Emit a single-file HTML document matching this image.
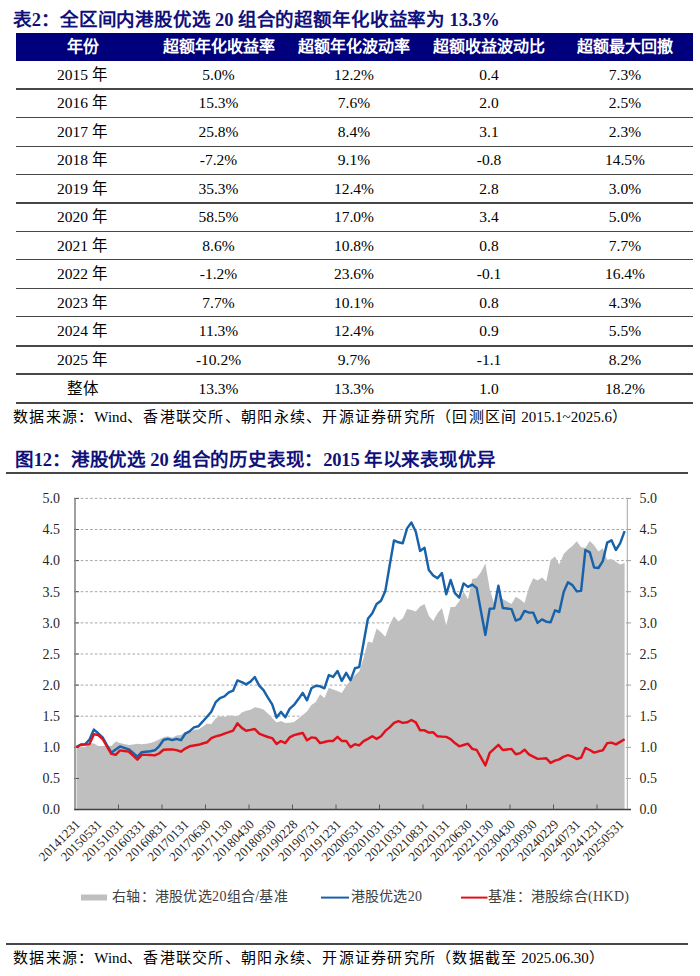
<!DOCTYPE html>
<html lang="zh-CN"><head><meta charset="utf-8"><style>
html,body{margin:0;padding:0;background:#fff;}
body{width:700px;height:976px;position:relative;overflow:hidden;font-family:"Liberation Serif",serif;color:#000;}
.t{position:absolute;white-space:nowrap;}
.ttl{font-weight:bold;color:#10107a;font-size:18.5px;line-height:20px;}
.hdr{position:absolute;left:16px;width:677px;top:32.5px;height:28px;background:#00007d;}
.h{position:absolute;width:200px;margin-left:-100px;text-align:center;color:#fff;font-weight:bold;font-size:16px;line-height:28px;top:32.5px;}
.c{position:absolute;width:200px;margin-left:-100px;text-align:center;font-size:15.5px;line-height:28px;}
.rl{position:absolute;left:16px;width:677px;height:1.5px;background:#474747;}
.src{font-size:15px;line-height:16px;letter-spacing:1.27px;}
</style></head><body>

<div class="t ttl" style="left:13px;top:10px;font-size:18.5px;letter-spacing:-0.15px;">表2：全区间内港股优选 20 组合的超额年化收益率为 13.3%</div>
<div class="hdr"></div>
<div class="h" style="left:82.5px;">年份</div>
<div class="h" style="left:218.5px;">超额年化收益率</div>
<div class="h" style="left:354px;">超额年化波动率</div>
<div class="h" style="left:489px;">超额收益波动比</div>
<div class="h" style="left:625px;">超额最大回撤</div>
<div class="c" style="left:82.5px;top:60.8px;">2015 年</div>
<div class="c" style="left:218.5px;top:60.8px;">5.0%</div>
<div class="c" style="left:354px;top:60.8px;">12.2%</div>
<div class="c" style="left:489px;top:60.8px;">0.4</div>
<div class="c" style="left:625px;top:60.8px;">7.3%</div>
<div class="rl" style="top:88.25px;"></div>
<div class="c" style="left:82.5px;top:89.2px;">2016 年</div>
<div class="c" style="left:218.5px;top:89.2px;">15.3%</div>
<div class="c" style="left:354px;top:89.2px;">7.6%</div>
<div class="c" style="left:489px;top:89.2px;">2.0</div>
<div class="c" style="left:625px;top:89.2px;">2.5%</div>
<div class="rl" style="top:116.75px;"></div>
<div class="c" style="left:82.5px;top:117.9px;">2017 年</div>
<div class="c" style="left:218.5px;top:117.9px;">25.8%</div>
<div class="c" style="left:354px;top:117.9px;">8.4%</div>
<div class="c" style="left:489px;top:117.9px;">3.1</div>
<div class="c" style="left:625px;top:117.9px;">2.3%</div>
<div class="rl" style="top:145.55px;"></div>
<div class="c" style="left:82.5px;top:146.4px;">2018 年</div>
<div class="c" style="left:218.5px;top:146.4px;">-7.2%</div>
<div class="c" style="left:354px;top:146.4px;">9.1%</div>
<div class="c" style="left:489px;top:146.4px;">-0.8</div>
<div class="c" style="left:625px;top:146.4px;">14.5%</div>
<div class="rl" style="top:173.85px;"></div>
<div class="c" style="left:82.5px;top:174.9px;">2019 年</div>
<div class="c" style="left:218.5px;top:174.9px;">35.3%</div>
<div class="c" style="left:354px;top:174.9px;">12.4%</div>
<div class="c" style="left:489px;top:174.9px;">2.8</div>
<div class="c" style="left:625px;top:174.9px;">3.0%</div>
<div class="rl" style="top:202.45px;"></div>
<div class="c" style="left:82.5px;top:203.4px;">2020 年</div>
<div class="c" style="left:218.5px;top:203.4px;">58.5%</div>
<div class="c" style="left:354px;top:203.4px;">17.0%</div>
<div class="c" style="left:489px;top:203.4px;">3.4</div>
<div class="c" style="left:625px;top:203.4px;">5.0%</div>
<div class="rl" style="top:230.85px;"></div>
<div class="c" style="left:82.5px;top:231.6px;">2021 年</div>
<div class="c" style="left:218.5px;top:231.6px;">8.6%</div>
<div class="c" style="left:354px;top:231.6px;">10.8%</div>
<div class="c" style="left:489px;top:231.6px;">0.8</div>
<div class="c" style="left:625px;top:231.6px;">7.7%</div>
<div class="rl" style="top:258.75px;"></div>
<div class="c" style="left:82.5px;top:260.1px;">2022 年</div>
<div class="c" style="left:218.5px;top:260.1px;">-1.2%</div>
<div class="c" style="left:354px;top:260.1px;">23.6%</div>
<div class="c" style="left:489px;top:260.1px;">-0.1</div>
<div class="c" style="left:625px;top:260.1px;">16.4%</div>
<div class="rl" style="top:287.95px;"></div>
<div class="c" style="left:82.5px;top:288.7px;">2023 年</div>
<div class="c" style="left:218.5px;top:288.7px;">7.7%</div>
<div class="c" style="left:354px;top:288.7px;">10.1%</div>
<div class="c" style="left:489px;top:288.7px;">0.8</div>
<div class="c" style="left:625px;top:288.7px;">4.3%</div>
<div class="rl" style="top:315.95px;"></div>
<div class="c" style="left:82.5px;top:317.3px;">2024 年</div>
<div class="c" style="left:218.5px;top:317.3px;">11.3%</div>
<div class="c" style="left:354px;top:317.3px;">12.4%</div>
<div class="c" style="left:489px;top:317.3px;">0.9</div>
<div class="c" style="left:625px;top:317.3px;">5.5%</div>
<div class="rl" style="top:345.15px;"></div>
<div class="c" style="left:82.5px;top:345.9px;">2025 年</div>
<div class="c" style="left:218.5px;top:345.9px;">-10.2%</div>
<div class="c" style="left:354px;top:345.9px;">9.7%</div>
<div class="c" style="left:489px;top:345.9px;">-1.1</div>
<div class="c" style="left:625px;top:345.9px;">8.2%</div>
<div class="rl" style="top:373.15px;"></div>
<div class="c" style="left:82.5px;top:374.5px;">整体</div>
<div class="c" style="left:218.5px;top:374.5px;">13.3%</div>
<div class="c" style="left:354px;top:374.5px;">13.3%</div>
<div class="c" style="left:489px;top:374.5px;">1.0</div>
<div class="c" style="left:625px;top:374.5px;">18.2%</div>
<div class="rl" style="top:402.35px;"></div>
<div class="t src" style="left:13px;top:409px;">数据来源：<span style="letter-spacing:0px">Wind</span>、香港联交所、朝阳永续、开源证券研究所（回测区间<span style="letter-spacing:0px"> 2015.1~2025.6</span>）</div>
<div class="t ttl" style="left:15px;top:450px;font-size:18.5px;letter-spacing:-0.2px;">图12：港股优选 20 组合的历史表现：2015 年以来表现优异</div>
<div class="rl" style="left:6px;width:682px;top:472px;"></div>
<svg style="position:absolute;left:0;top:0" width="700" height="976" viewBox="0 0 700 976">
<line x1="76" y1="778.5" x2="631" y2="778.5" stroke="#a6a6a6" stroke-width="1" stroke-dasharray="2.6 2.1"/>
<line x1="76" y1="747.4" x2="631" y2="747.4" stroke="#a6a6a6" stroke-width="1" stroke-dasharray="2.6 2.1"/>
<line x1="76" y1="716.2" x2="631" y2="716.2" stroke="#a6a6a6" stroke-width="1" stroke-dasharray="2.6 2.1"/>
<line x1="76" y1="685.1" x2="631" y2="685.1" stroke="#a6a6a6" stroke-width="1" stroke-dasharray="2.6 2.1"/>
<line x1="76" y1="654.0" x2="631" y2="654.0" stroke="#a6a6a6" stroke-width="1" stroke-dasharray="2.6 2.1"/>
<line x1="76" y1="622.9" x2="631" y2="622.9" stroke="#a6a6a6" stroke-width="1" stroke-dasharray="2.6 2.1"/>
<line x1="76" y1="591.7" x2="631" y2="591.7" stroke="#a6a6a6" stroke-width="1" stroke-dasharray="2.6 2.1"/>
<line x1="76" y1="560.6" x2="631" y2="560.6" stroke="#a6a6a6" stroke-width="1" stroke-dasharray="2.6 2.1"/>
<line x1="76" y1="529.5" x2="631" y2="529.5" stroke="#a6a6a6" stroke-width="1" stroke-dasharray="2.6 2.1"/>
<line x1="76" y1="498.4" x2="631" y2="498.4" stroke="#a6a6a6" stroke-width="1" stroke-dasharray="2.6 2.1"/>
<path d="M76.5,747.4 L80.8,746.9 L85.2,746.9 L89.5,743.1 L93.9,743.6 L98.2,745.9 L102.6,745.9 L106.9,745.9 L111.3,746.0 L115.7,741.4 L120.0,743.1 L124.3,744.0 L128.7,744.9 L133.1,744.4 L137.4,743.7 L141.8,744.3 L146.1,743.7 L150.4,743.1 L154.8,741.5 L159.1,739.4 L163.5,737.3 L167.8,736.3 L172.2,737.8 L176.6,735.6 L180.9,735.0 L185.2,732.1 L189.6,732.7 L193.9,729.7 L198.3,729.6 L202.6,726.8 L207.0,723.6 L211.3,724.3 L215.7,718.3 L220.0,716.2 L224.4,716.9 L228.8,715.4 L233.1,715.8 L237.4,716.4 L241.8,712.5 L246.1,710.8 L250.5,709.7 L254.8,707.2 L259.2,708.0 L263.5,709.5 L267.9,713.6 L272.2,718.0 L276.6,722.4 L280.9,720.9 L285.3,723.1 L289.6,722.8 L294.0,722.1 L298.4,718.6 L302.7,714.9 L307.0,711.4 L311.4,705.0 L315.8,701.9 L320.1,694.2 L324.4,697.9 L328.8,687.7 L333.1,689.4 L337.5,691.0 L341.8,693.0 L346.2,685.7 L350.5,680.8 L354.9,674.9 L359.2,671.4 L363.6,657.9 L367.9,641.6 L372.3,642.8 L376.6,628.6 L381.0,632.2 L385.3,636.8 L389.7,624.6 L394.0,616.3 L398.4,621.6 L402.8,618.3 L407.1,609.1 L411.4,610.1 L415.8,611.5 L420.1,606.5 L424.5,604.1 L428.8,615.8 L433.2,621.0 L437.5,613.2 L441.9,607.9 L446.2,625.2 L450.6,606.9 L454.9,606.9 L459.3,601.2 L463.6,591.6 L468.0,599.2 L472.3,578.9 L476.7,578.1 L481.0,571.9 L485.4,563.6 L489.7,588.9 L494.1,603.5 L498.4,594.2 L502.8,599.0 L507.1,601.5 L511.5,604.0 L515.8,596.8 L520.2,599.5 L524.5,603.1 L528.9,587.8 L533.2,578.2 L537.6,580.4 L542.0,577.4 L546.3,581.6 L550.6,559.9 L555.0,556.4 L559.3,564.6 L563.7,554.0 L568.0,549.5 L572.4,545.9 L576.8,541.2 L581.1,547.3 L585.4,547.7 L589.8,540.9 L594.1,545.2 L598.5,551.6 L602.8,548.3 L607.2,559.7 L611.5,559.0 L615.9,561.7 L620.2,564.6 L624.6,563.0 L624.6,809.6 L76.5,809.6 Z" fill="#bfbfbf"/>
<line x1="74" y1="809.6" x2="79" y2="809.6" stroke="#595959" stroke-width="1"/>
<line x1="627" y1="809.6" x2="631" y2="809.6" stroke="#a6a6a6" stroke-width="1"/>
<text x="60" y="814.4" text-anchor="end" font-size="14" font-family="Liberation Serif" fill="#262626">0.0</text>
<text x="639.5" y="814.4" font-size="14" font-family="Liberation Serif" fill="#262626">0.0</text>
<line x1="74" y1="778.5" x2="79" y2="778.5" stroke="#595959" stroke-width="1"/>
<line x1="627" y1="778.5" x2="631" y2="778.5" stroke="#a6a6a6" stroke-width="1"/>
<text x="60" y="783.3" text-anchor="end" font-size="14" font-family="Liberation Serif" fill="#262626">0.5</text>
<text x="639.5" y="783.3" font-size="14" font-family="Liberation Serif" fill="#262626">0.5</text>
<line x1="74" y1="747.4" x2="79" y2="747.4" stroke="#595959" stroke-width="1"/>
<line x1="627" y1="747.4" x2="631" y2="747.4" stroke="#a6a6a6" stroke-width="1"/>
<text x="60" y="752.1" text-anchor="end" font-size="14" font-family="Liberation Serif" fill="#262626">1.0</text>
<text x="639.5" y="752.1" font-size="14" font-family="Liberation Serif" fill="#262626">1.0</text>
<line x1="74" y1="716.2" x2="79" y2="716.2" stroke="#595959" stroke-width="1"/>
<line x1="627" y1="716.2" x2="631" y2="716.2" stroke="#a6a6a6" stroke-width="1"/>
<text x="60" y="721.0" text-anchor="end" font-size="14" font-family="Liberation Serif" fill="#262626">1.5</text>
<text x="639.5" y="721.0" font-size="14" font-family="Liberation Serif" fill="#262626">1.5</text>
<line x1="74" y1="685.1" x2="79" y2="685.1" stroke="#595959" stroke-width="1"/>
<line x1="627" y1="685.1" x2="631" y2="685.1" stroke="#a6a6a6" stroke-width="1"/>
<text x="60" y="689.9" text-anchor="end" font-size="14" font-family="Liberation Serif" fill="#262626">2.0</text>
<text x="639.5" y="689.9" font-size="14" font-family="Liberation Serif" fill="#262626">2.0</text>
<line x1="74" y1="654.0" x2="79" y2="654.0" stroke="#595959" stroke-width="1"/>
<line x1="627" y1="654.0" x2="631" y2="654.0" stroke="#a6a6a6" stroke-width="1"/>
<text x="60" y="658.8" text-anchor="end" font-size="14" font-family="Liberation Serif" fill="#262626">2.5</text>
<text x="639.5" y="658.8" font-size="14" font-family="Liberation Serif" fill="#262626">2.5</text>
<line x1="74" y1="622.9" x2="79" y2="622.9" stroke="#595959" stroke-width="1"/>
<line x1="627" y1="622.9" x2="631" y2="622.9" stroke="#a6a6a6" stroke-width="1"/>
<text x="60" y="627.6" text-anchor="end" font-size="14" font-family="Liberation Serif" fill="#262626">3.0</text>
<text x="639.5" y="627.6" font-size="14" font-family="Liberation Serif" fill="#262626">3.0</text>
<line x1="74" y1="591.7" x2="79" y2="591.7" stroke="#595959" stroke-width="1"/>
<line x1="627" y1="591.7" x2="631" y2="591.7" stroke="#a6a6a6" stroke-width="1"/>
<text x="60" y="596.5" text-anchor="end" font-size="14" font-family="Liberation Serif" fill="#262626">3.5</text>
<text x="639.5" y="596.5" font-size="14" font-family="Liberation Serif" fill="#262626">3.5</text>
<line x1="74" y1="560.6" x2="79" y2="560.6" stroke="#595959" stroke-width="1"/>
<line x1="627" y1="560.6" x2="631" y2="560.6" stroke="#a6a6a6" stroke-width="1"/>
<text x="60" y="565.4" text-anchor="end" font-size="14" font-family="Liberation Serif" fill="#262626">4.0</text>
<text x="639.5" y="565.4" font-size="14" font-family="Liberation Serif" fill="#262626">4.0</text>
<line x1="74" y1="529.5" x2="79" y2="529.5" stroke="#595959" stroke-width="1"/>
<line x1="627" y1="529.5" x2="631" y2="529.5" stroke="#a6a6a6" stroke-width="1"/>
<text x="60" y="534.3" text-anchor="end" font-size="14" font-family="Liberation Serif" fill="#262626">4.5</text>
<text x="639.5" y="534.3" font-size="14" font-family="Liberation Serif" fill="#262626">4.5</text>
<line x1="74" y1="498.4" x2="79" y2="498.4" stroke="#595959" stroke-width="1"/>
<line x1="627" y1="498.4" x2="631" y2="498.4" stroke="#a6a6a6" stroke-width="1"/>
<text x="60" y="503.2" text-anchor="end" font-size="14" font-family="Liberation Serif" fill="#262626">5.0</text>
<text x="639.5" y="503.2" font-size="14" font-family="Liberation Serif" fill="#262626">5.0</text>
<line x1="75" y1="498" x2="75" y2="809.5" stroke="#7f7f7f" stroke-width="1.5"/>
<line x1="627.3" y1="498" x2="627.3" y2="809.5" stroke="#a6a6a6" stroke-width="1"/>
<line x1="74.3" y1="809.5" x2="631" y2="809.5" stroke="#404040" stroke-width="1.3"/>
<line x1="118.5" y1="804.5" x2="118.5" y2="809.5" stroke="#595959" stroke-width="1"/>
<line x1="162.0" y1="804.5" x2="162.0" y2="809.5" stroke="#595959" stroke-width="1"/>
<line x1="205.5" y1="804.5" x2="205.5" y2="809.5" stroke="#595959" stroke-width="1"/>
<line x1="249.0" y1="804.5" x2="249.0" y2="809.5" stroke="#595959" stroke-width="1"/>
<line x1="292.5" y1="804.5" x2="292.5" y2="809.5" stroke="#595959" stroke-width="1"/>
<line x1="336.0" y1="804.5" x2="336.0" y2="809.5" stroke="#595959" stroke-width="1"/>
<line x1="379.5" y1="804.5" x2="379.5" y2="809.5" stroke="#595959" stroke-width="1"/>
<line x1="423.0" y1="804.5" x2="423.0" y2="809.5" stroke="#595959" stroke-width="1"/>
<line x1="466.5" y1="804.5" x2="466.5" y2="809.5" stroke="#595959" stroke-width="1"/>
<line x1="510.0" y1="804.5" x2="510.0" y2="809.5" stroke="#595959" stroke-width="1"/>
<line x1="553.5" y1="804.5" x2="553.5" y2="809.5" stroke="#595959" stroke-width="1"/>
<line x1="597.0" y1="804.5" x2="597.0" y2="809.5" stroke="#595959" stroke-width="1"/>
<path d="M76.5,747.0 L80.8,744.5 L85.2,744.1 L89.5,739.6 L93.9,729.6 L98.2,733.3 L102.6,737.3 L106.9,745.0 L111.3,752.7 L115.7,749.5 L120.0,746.4 L124.3,747.8 L128.7,749.3 L133.1,753.0 L137.4,756.7 L141.8,752.1 L146.1,751.7 L150.4,751.3 L154.8,750.3 L159.1,746.3 L163.5,740.0 L167.8,738.9 L172.2,740.2 L176.6,738.9 L180.9,740.2 L185.2,733.7 L189.6,731.4 L193.9,727.4 L198.3,726.3 L202.6,721.7 L207.0,716.7 L211.3,711.7 L215.7,702.2 L220.0,698.1 L224.4,696.4 L228.8,692.4 L233.1,690.7 L237.4,680.4 L241.8,682.1 L246.1,684.4 L250.5,681.6 L254.8,677.0 L259.2,685.6 L263.5,690.1 L267.9,697.6 L272.2,704.4 L276.6,717.6 L280.9,711.9 L285.3,717.2 L289.6,708.9 L294.0,704.9 L298.4,699.1 L302.7,692.9 L307.0,700.3 L311.4,688.3 L315.8,685.7 L320.1,686.3 L324.4,688.3 L328.8,675.1 L333.1,676.9 L337.5,671.1 L341.8,680.9 L346.2,672.9 L350.5,680.3 L354.9,668.3 L359.2,667.1 L363.6,642.7 L367.9,618.8 L372.3,613.2 L376.6,604.0 L381.0,600.7 L385.3,591.1 L389.7,565.3 L394.0,540.4 L398.4,542.3 L402.8,543.2 L407.1,528.4 L411.4,522.5 L415.8,531.8 L420.1,550.9 L424.5,547.8 L428.8,569.9 L433.2,575.4 L437.5,578.3 L441.9,573.1 L446.2,594.3 L450.6,580.0 L454.9,593.1 L459.3,597.7 L463.6,583.4 L468.0,586.9 L472.3,584.6 L476.7,588.0 L481.0,611.5 L485.4,634.9 L489.7,608.6 L494.1,608.6 L498.4,585.7 L502.8,608.0 L507.1,608.5 L511.5,609.1 L515.8,620.6 L520.2,618.9 L524.5,610.9 L528.9,612.6 L533.2,612.6 L537.6,622.9 L542.0,619.4 L546.3,621.7 L550.6,622.3 L555.0,610.3 L559.3,612.0 L563.7,592.0 L568.0,582.3 L572.4,585.1 L576.8,591.4 L581.1,590.9 L585.4,550.0 L589.8,552.3 L594.1,567.5 L598.5,568.0 L602.8,561.1 L607.2,542.6 L611.5,540.3 L615.9,550.0 L620.2,543.1 L624.6,531.1" fill="none" stroke="#1862aa" stroke-width="2.45" stroke-linejoin="round"/>
<path d="M76.5,747.0 L80.8,745.0 L85.2,744.5 L89.5,744.1 L93.9,734.2 L98.2,735.0 L102.6,739.0 L106.9,746.5 L111.3,753.9 L115.7,754.8 L120.0,750.4 L124.3,751.0 L128.7,751.6 L133.1,755.6 L137.4,759.6 L141.8,754.8 L146.1,754.9 L150.4,755.0 L154.8,755.4 L159.1,753.5 L163.5,749.7 L167.8,749.5 L172.2,749.4 L176.6,750.1 L180.9,751.7 L185.2,748.6 L189.6,746.3 L193.9,745.5 L198.3,744.8 L202.6,743.5 L207.0,742.3 L211.3,738.1 L215.7,736.4 L220.0,735.3 L224.4,733.6 L228.8,732.2 L233.1,730.7 L237.4,723.3 L241.8,727.9 L246.1,730.7 L250.5,729.9 L254.8,729.0 L259.2,733.6 L263.5,735.3 L267.9,737.0 L272.2,738.1 L276.6,743.9 L280.9,741.0 L285.3,743.1 L289.6,737.4 L294.0,735.1 L298.4,734.0 L302.7,732.9 L307.0,740.3 L311.4,737.4 L315.8,738.0 L320.1,743.1 L324.4,742.0 L328.8,740.9 L333.1,740.9 L337.5,736.9 L341.8,740.9 L346.2,740.9 L350.5,747.1 L354.9,744.3 L359.2,745.4 L363.6,741.1 L367.9,738.9 L372.3,736.3 L376.6,738.9 L381.0,736.3 L385.3,730.9 L389.7,727.4 L394.0,722.9 L398.4,721.1 L402.8,722.9 L407.1,722.3 L411.4,720.0 L415.8,722.3 L420.1,730.3 L424.5,730.3 L428.8,732.6 L433.2,732.3 L437.5,736.3 L441.9,736.6 L446.2,736.9 L450.6,739.1 L454.9,743.1 L459.3,746.3 L463.6,745.0 L468.0,743.7 L472.3,748.9 L476.7,750.0 L481.0,757.7 L485.4,765.4 L489.7,752.9 L494.1,748.9 L498.4,744.9 L502.8,750.0 L507.1,749.5 L511.5,748.9 L515.8,754.3 L520.2,753.1 L524.5,749.7 L528.9,754.3 L533.2,756.6 L537.6,758.9 L542.0,758.6 L546.3,758.3 L550.6,762.9 L555.0,760.6 L559.3,759.4 L563.7,756.6 L568.0,755.2 L572.4,756.6 L576.8,759.0 L581.1,757.7 L585.4,747.9 L589.8,750.0 L594.1,752.6 L598.5,751.3 L602.8,750.4 L607.2,743.1 L611.5,742.7 L615.9,744.4 L620.2,741.9 L624.6,739.3" fill="none" stroke="#e2101a" stroke-width="2.45" stroke-linejoin="round"/>
<text x="77.7" y="822" text-anchor="end" dominant-baseline="central" transform="rotate(-45 77.7 822)" font-size="13" font-family="Liberation Serif" fill="#262626">20141231</text>
<text x="99.5" y="822" text-anchor="end" dominant-baseline="central" transform="rotate(-45 99.5 822)" font-size="13" font-family="Liberation Serif" fill="#262626">20150531</text>
<text x="121.2" y="822" text-anchor="end" dominant-baseline="central" transform="rotate(-45 121.2 822)" font-size="13" font-family="Liberation Serif" fill="#262626">20151031</text>
<text x="142.9" y="822" text-anchor="end" dominant-baseline="central" transform="rotate(-45 142.9 822)" font-size="13" font-family="Liberation Serif" fill="#262626">20160331</text>
<text x="164.7" y="822" text-anchor="end" dominant-baseline="central" transform="rotate(-45 164.7 822)" font-size="13" font-family="Liberation Serif" fill="#262626">20160831</text>
<text x="186.4" y="822" text-anchor="end" dominant-baseline="central" transform="rotate(-45 186.4 822)" font-size="13" font-family="Liberation Serif" fill="#262626">20170131</text>
<text x="208.2" y="822" text-anchor="end" dominant-baseline="central" transform="rotate(-45 208.2 822)" font-size="13" font-family="Liberation Serif" fill="#262626">20170630</text>
<text x="229.9" y="822" text-anchor="end" dominant-baseline="central" transform="rotate(-45 229.9 822)" font-size="13" font-family="Liberation Serif" fill="#262626">20171130</text>
<text x="251.7" y="822" text-anchor="end" dominant-baseline="central" transform="rotate(-45 251.7 822)" font-size="13" font-family="Liberation Serif" fill="#262626">20180430</text>
<text x="273.4" y="822" text-anchor="end" dominant-baseline="central" transform="rotate(-45 273.4 822)" font-size="13" font-family="Liberation Serif" fill="#262626">20180930</text>
<text x="295.2" y="822" text-anchor="end" dominant-baseline="central" transform="rotate(-45 295.2 822)" font-size="13" font-family="Liberation Serif" fill="#262626">20190228</text>
<text x="316.9" y="822" text-anchor="end" dominant-baseline="central" transform="rotate(-45 316.9 822)" font-size="13" font-family="Liberation Serif" fill="#262626">20190731</text>
<text x="338.7" y="822" text-anchor="end" dominant-baseline="central" transform="rotate(-45 338.7 822)" font-size="13" font-family="Liberation Serif" fill="#262626">20191231</text>
<text x="360.4" y="822" text-anchor="end" dominant-baseline="central" transform="rotate(-45 360.4 822)" font-size="13" font-family="Liberation Serif" fill="#262626">20200531</text>
<text x="382.2" y="822" text-anchor="end" dominant-baseline="central" transform="rotate(-45 382.2 822)" font-size="13" font-family="Liberation Serif" fill="#262626">20201031</text>
<text x="403.9" y="822" text-anchor="end" dominant-baseline="central" transform="rotate(-45 403.9 822)" font-size="13" font-family="Liberation Serif" fill="#262626">20210331</text>
<text x="425.7" y="822" text-anchor="end" dominant-baseline="central" transform="rotate(-45 425.7 822)" font-size="13" font-family="Liberation Serif" fill="#262626">20210831</text>
<text x="447.4" y="822" text-anchor="end" dominant-baseline="central" transform="rotate(-45 447.4 822)" font-size="13" font-family="Liberation Serif" fill="#262626">20220131</text>
<text x="469.2" y="822" text-anchor="end" dominant-baseline="central" transform="rotate(-45 469.2 822)" font-size="13" font-family="Liberation Serif" fill="#262626">20220630</text>
<text x="490.9" y="822" text-anchor="end" dominant-baseline="central" transform="rotate(-45 490.9 822)" font-size="13" font-family="Liberation Serif" fill="#262626">20221130</text>
<text x="512.7" y="822" text-anchor="end" dominant-baseline="central" transform="rotate(-45 512.7 822)" font-size="13" font-family="Liberation Serif" fill="#262626">20230430</text>
<text x="534.5" y="822" text-anchor="end" dominant-baseline="central" transform="rotate(-45 534.5 822)" font-size="13" font-family="Liberation Serif" fill="#262626">20230930</text>
<text x="556.2" y="822" text-anchor="end" dominant-baseline="central" transform="rotate(-45 556.2 822)" font-size="13" font-family="Liberation Serif" fill="#262626">20240229</text>
<text x="578.0" y="822" text-anchor="end" dominant-baseline="central" transform="rotate(-45 578.0 822)" font-size="13" font-family="Liberation Serif" fill="#262626">20240731</text>
<text x="599.7" y="822" text-anchor="end" dominant-baseline="central" transform="rotate(-45 599.7 822)" font-size="13" font-family="Liberation Serif" fill="#262626">20241231</text>
<text x="621.5" y="822" text-anchor="end" dominant-baseline="central" transform="rotate(-45 621.5 822)" font-size="13" font-family="Liberation Serif" fill="#262626">20250531</text>
<rect x="81" y="894.5" width="26" height="6" fill="#bfbfbf"/>
<line x1="321" y1="897.6" x2="349" y2="897.6" stroke="#1862aa" stroke-width="2"/>
<line x1="461" y1="897.6" x2="487.5" y2="897.6" stroke="#e2101a" stroke-width="2"/>
</svg>
<div class="t" style="left:112px;top:889px;font-size:14px;line-height:16px;color:#404040;letter-spacing:0.3px;">右轴：港股优选20组合/基准</div>
<div class="t" style="left:350.5px;top:889px;font-size:14px;line-height:16px;color:#404040;letter-spacing:0.3px;">港股优选20</div>
<div class="t" style="left:488px;top:889px;font-size:14px;line-height:16px;color:#404040;letter-spacing:0.3px;">基准：港股综合(HKD)</div>
<div class="rl" style="left:6px;width:682px;top:943px;"></div>
<div class="t src" style="left:13px;top:950px;">数据来源：<span style="letter-spacing:0px">Wind</span>、香港联交所、朝阳永续、开源证券研究所（数据截至<span style="letter-spacing:0px"> 2025.06.30</span>）</div>
</body></html>
